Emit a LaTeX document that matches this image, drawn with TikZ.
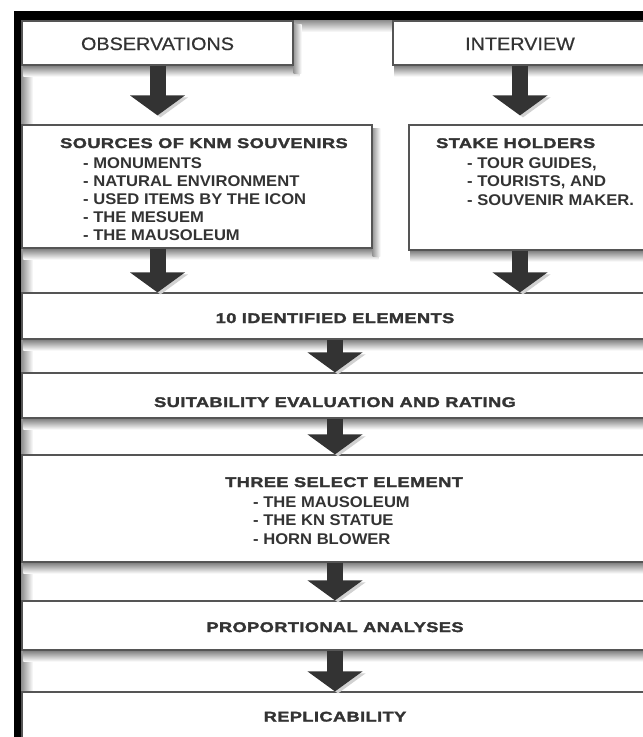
\documentclass[tikz,border=0pt]{standalone}
\usepackage{fontspec}
\setmainfont{Liberation Sans}
\newfontfamily\boxfont{Liberation Sans}[FakeStretch=1.1,FakeBold=0.6]
\newfontfamily\headfont{Liberation Sans Bold}[FakeStretch=1.3,FakeBold=2,LetterSpace=3]
\newfontfamily\itemfont{Liberation Sans Bold}[FakeStretch=1.07]
\usetikzlibrary{arrows.meta,backgrounds}

\definecolor{ink}{HTML}{333333}
\definecolor{edge}{HTML}{555555}

\tikzstyle{block} = [rectangle,draw=edge,fill=white,line width=1.2pt,inner sep=0pt]
\tikzstyle{title} = [text=ink,inner sep=0pt,anchor=base,font=\boxfont\fontsize{18}{20}\selectfont]
\tikzstyle{heading} = [text=ink,inner sep=0pt,font=\headfont\fontsize{14}{16}\selectfont]
\tikzstyle{item} = [text=ink,inner sep=0pt,anchor=base west,font=\itemfont\fontsize{15.5}{18}\selectfont]
\tikzstyle{flow} = [draw=ink,line width=16pt,-{Triangle[length=20pt,width=54pt]},
  preaction={draw=black!18,transform canvas={xshift=3pt,yshift=-2pt}}]

\begin{document}
\begin{tikzpicture}[x=1pt,y=-1pt]
	\useasboundingbox (0,0) rectangle (643,737);

	% top row
	\node[block,minimum width=271pt,minimum height=44pt] (obs) at (157.5,43) {};
	\node[title] (obsT) at (157.5,50) {OBSERVATIONS};
	\node[block,minimum width=254pt,minimum height=44pt] (int) at (520,43) {};
	\node[title] (intT) at (520,50) {INTERVIEW};

	% sources and stake holders
	\node[block,minimum width=350pt,minimum height=123pt] (src) at (197,186.5) {};
	\node[heading,anchor=base west] (srcT) at (60,148) {SOURCES OF KNM SOUVENIRS};
	\foreach \t [count=\i] in {MONUMENTS,NATURAL ENVIRONMENT,USED ITEMS BY THE ICON,THE MESUEM,THE MAUSOLEUM}
		\node[item] (src\i) at (83,149.8+18.2*\i) {- \t};
	\node[block,minimum width=251pt,minimum height=125pt] (stk) at (534.5,187.5) {};
	\node[heading,anchor=base west] (stkT) at (436,148) {STAKE HOLDERS};
	\foreach \t [count=\i] in {{TOUR GUIDES,},{TOURISTS, AND},SOUVENIR MAKER.}
		\node[item] (stk\i) at (467,149.5+18.5*\i) {- \t};

	% full width stages
	\node[block,minimum width=626pt,minimum height=46pt] (ide) at (335,316) {};
	\node[heading,anchor=base] (ideT) at (335,323) {10 IDENTIFIED ELEMENTS};
	\node[block,minimum width=626pt,minimum height=45pt] (suit) at (335,395.5) {};
	\node[heading,anchor=base] (suitT) at (335,407) {SUITABILITY EVALUATION AND RATING};
	\node[block,minimum width=626pt,minimum height=107pt] (three) at (335,508.5) {};
	\node[heading,anchor=base west] (threeT) at (225,487) {THREE SELECT ELEMENT};
	\foreach \t [count=\i] in {THE MAUSOLEUM,THE KN STATUE,HORN BLOWER}
		\node[item] (three\i) at (253,488.5+18.5*\i) {- \t};
	\node[block,minimum width=626pt,minimum height=49pt] (prop) at (335,625.5) {};
	\node[heading,anchor=base] (propT) at (335,632) {PROPORTIONAL ANALYSES};
	\node[block,minimum width=626pt,minimum height=53pt] (repl) at (335,718.5) {};
	\node[heading,anchor=base] (replT) at (335,721.5) {REPLICABILITY};

	% frame
	\fill (14,11) rectangle (650,20);
	\fill (14,11) rectangle (21,745);

	\begin{scope}[on background layer]
		\shade[top color=black!45,bottom color=white] (14,20) rectangle (650,32);
		\shade[left color=black!45,right color=white] (21,11) rectangle (33,745);
		\foreach \b in {obs,int,src,stk,ide,suit,three,prop}
			\shade[top color=black!50,bottom color=white] ([xshift=2pt]\b.south west) rectangle ([xshift=6pt,yshift=-11pt]\b.south east);
		\foreach \b in {obs,src}
			\shade[left color=black!40,right color=white] ([yshift=-4pt]\b.north east) rectangle ([xshift=8pt,yshift=-8pt]\b.south east);
	\end{scope}

	\draw[flow,shorten >=9pt] (obs.south) -- (obs.south |- src.north);
	\draw[flow,shorten >=9pt] (int.south) -- (int.south |- stk.north);
	\draw[flow] (obs.south |- src.south) -- (obs.south |- ide.north);
	\draw[flow] (int.south |- stk.south) -- (int.south |- ide.north);
	\draw[flow] (ide) -- (suit);
	\draw[flow] (suit) -- (three);
	\draw[flow] (three) -- (prop);
	\draw[flow] (prop) -- (repl);
\end{tikzpicture}
\end{document}
